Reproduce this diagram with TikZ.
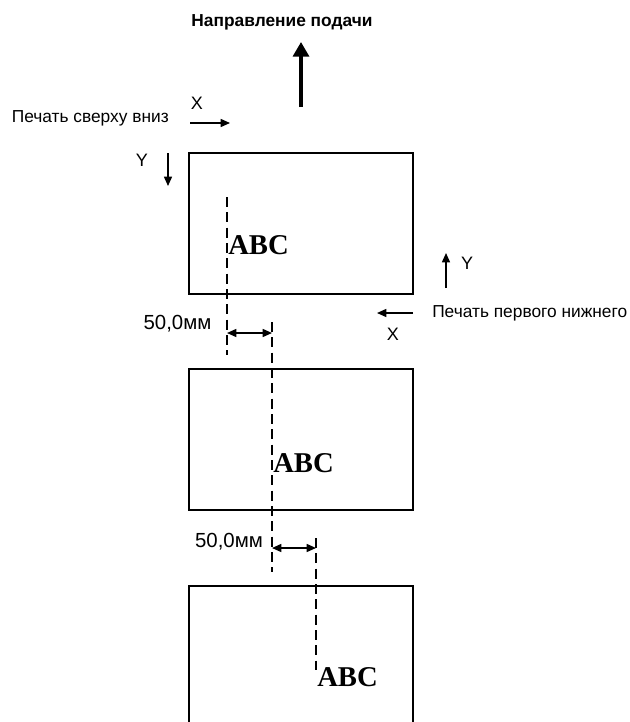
\documentclass[tikz,border=0pt]{standalone}
\usepackage{fontspec}
\setmainfont{Liberation Sans}
\newfontfamily\abcfont{Liberation Serif}
\usepackage{tikz}
\usetikzlibrary{arrows.meta,positioning}

\begin{document}
\begin{tikzpicture}[
  x=0.75pt, y=-0.75pt,
  >={Triangle[length=7pt,width=6pt]},
  every node/.style={font=\fontsize{13}{15}\selectfont, inner sep=0pt},
  sheet/.style={draw, line width=1.8pt, minimum width=168pt, minimum height=105.75pt},
  abc/.style={anchor=west, font=\abcfont\bfseries\fontsize{21.5}{24}\selectfont},
  axlabel/.style={font=\fontsize{13.5}{15}\selectfont},
  size/.style={font=\fontsize{15.3}{17}\selectfont},
  guide/.style={line width=1.1pt, dash pattern=on 7.5pt off 4pt},
  axis/.style={->, line width=1.1pt},
  dim/.style={<->, line width=1.1pt}
]
\clip (0,0) rectangle (630,722);

% sheets
\node[sheet] (s1) at (301,223.5) {};
\node[sheet] (s2) at (301,439.5) {};
\node[sheet] (s3) at (301,656.5) {};

\node[abc] (t1) at (228,245) {ABC};
\node[abc] (t2) at (273,463) {ABC};
\node[abc] (t3) at (317,677) {ABC};

% feed direction
\node[font=\bfseries\fontsize{13}{15}\selectfont] (feed) at (282,22) {Направление подачи};
\coordinate (f0) at (301,107);
\coordinate (f1) at (301,42);
\draw[-{Triangle[length=11pt,width=12pt]}, line width=2.5pt] (f0) -- (f1);

% top-down printing
\node[anchor=east] (down) at (169,118) {Печать сверху вниз};
\node[axlabel] (x1) at (197,103) {X};
\coordinate (x1a) at (190,123);
\coordinate (x1b) at (230,123);
\draw[axis] (x1a) -- (x1b);
\node[axlabel] (y1) at (142,160) {Y};
\coordinate (y1a) at (168,153);
\coordinate (y1b) at (168,186);
\draw[axis] (y1a) -- (y1b);

% bottom-first printing
\node[anchor=west] (up) at (432,313) {Печать первого нижнего};
\coordinate (y2a) at (446,288);
\coordinate (y2b) at (446,253);
\draw[axis] (y2a) -- (y2b);
\node[axlabel] (y2) at (467,263) {Y};
\coordinate (x2a) at (413,313);
\coordinate (x2b) at (377,313);
\draw[axis] (x2a) -- (x2b);
\node[axlabel] (x2) at (393,334) {X};

% guides
\coordinate (g1a) at (227,197);
\coordinate (g1b) at (227,355);
\coordinate (g2a) at (272,322);
\coordinate (g2b) at (272,572);
\coordinate (g3a) at (316,538);
\coordinate (g3b) at (316,670);
\draw[guide] (g1a) -- (g1b);
\draw[guide] (g2a) -- (g2b);
\draw[guide] (g3a) -- (g3b);

% offsets
\coordinate (d1a) at (227,333);
\coordinate (d1b) at (272,333);
\coordinate (d2a) at (272,548);
\coordinate (d2b) at (316,548);
\draw[dim] (d1a) -- (d1b);
\draw[dim] (d2a) -- (d2b);
\node[size] (m1) at (177.5,324) {50,0мм};
\node[size] (m2) at (229,542) {50,0мм};
\end{tikzpicture}
\end{document}
